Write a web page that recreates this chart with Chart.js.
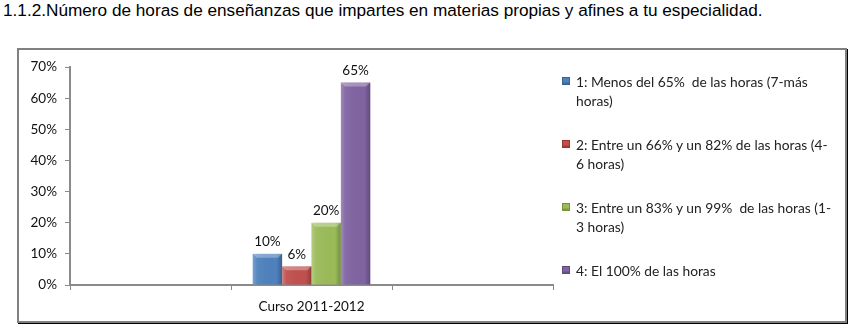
<!DOCTYPE html>
<html>
<head>
<meta charset="utf-8">
<script src="https://cdn.jsdelivr.net/npm/chart.js@4.4.1/dist/chart.umd.min.js"></script>
<style>
  html, body { margin: 0; padding: 0; background: #fff; }
  body { width: 851px; height: 330px; position: relative; overflow: hidden; }
  #title { position: absolute; left: 3px; top: 0px; font-family: "Liberation Sans", Arial, sans-serif; font-size: 17.2px; color: #000; white-space: nowrap; }
  #frame { position: absolute; left: 17px; top: 48px; width: 826px; height: 271px; border: 2px solid #808080; box-shadow: 1px 1px 0 #000; }
  #c { position: absolute; left: 0; top: 0; }
  #legend { position: absolute; left: 562px; top: 72px; width: 271px; font-family: Lato, "Open Sans", sans-serif; font-size: 13.8px; color: #222; line-height: 19px; }
  .item { position: relative; padding-left: 14px; height: 63px; white-space: pre-wrap; }
  .sw { position: absolute; left: 0; top: 5px; width: 8px; height: 8px; }
</style>
</head>
<body>
<div id="title">1.1.2.Número de horas de enseñanzas que impartes en materias propias y afines a tu especialidad.</div>
<div id="frame"></div>
<canvas id="c" width="851" height="330"></canvas>
<div id="legend"></div>
<script>
const categories = ['', 'Curso 2011-2012', ''];
const seriesNames = [
  '1: Menos del 65%  de las horas (7-más horas)',
  '2: Entre un 66% y un 82% de las horas (4-6 horas)',
  '3: Entre un 83% y un 99%  de las horas (1-3 horas)',
  '4: El 100% de las horas'
];
const series1 = [null, 10, null];
const series2 = [null, 6, null];
const series3 = [null, 20, null];
const series4 = [null, 65, null];
const yTicks = [0, 10, 20, 30, 40, 50, 60, 70];
const colors = ['#4F81BD', '#C0504D', '#9BBB59', '#8064A2'];
const darkColors = ['#3A6294', '#9A3532', '#76923C', '#5F4A7D'];

const valueLabels = {
  id: 'valueLabels',
  afterDatasetsDraw(chart) {
    const ctx = chart.ctx;
    ctx.save();
    ctx.font = '13.5px Lato, "Open Sans", sans-serif';
    ctx.fillStyle = '#111';
    ctx.textAlign = 'center';
    ctx.textBaseline = 'bottom';
    chart.data.datasets.forEach((ds, i) => {
      chart.getDatasetMeta(i).data.forEach((el, j) => {
        const v = ds.data[j];
        if (v === null || v === undefined) return;
        ctx.fillText(v + '%', el.x, el.y - 5);
      });
    });
    ctx.restore();
  }
};

const bevel = {
  id: 'bevel',
  afterDatasetsDraw(chart) {
    const ctx = chart.ctx;
    ctx.save();
    chart.data.datasets.forEach((ds, i) => {
      chart.getDatasetMeta(i).data.forEach((el, j) => {
        if (ds.data[j] === null) return;
        const w = el.width, l = el.x - w / 2, r = el.x + w / 2, t = el.y, b = el.base;
        const g = ctx.createLinearGradient(l, 0, r, 0);
        g.addColorStop(0, 'rgba(255,255,255,0.25)');
        g.addColorStop(0.15, 'rgba(255,255,255,0.05)');
        g.addColorStop(0.8, 'rgba(0,0,0,0.0)');
        g.addColorStop(1, 'rgba(0,0,0,0.25)');
        ctx.fillStyle = g;
        ctx.fillRect(l, t, w, b - t);
        ctx.fillStyle = 'rgba(255,255,255,0.3)';
        ctx.beginPath();
        ctx.moveTo(l, t); ctx.lineTo(r, t); ctx.lineTo(r - 4, t + 4); ctx.lineTo(l + 4, t + 4); ctx.closePath();
        ctx.fill();
      });
    });
    ctx.restore();
  }
};

const data = {
  labels: categories,
  datasets: [series1, series2, series3, series4].map((d, i) => ({
    label: seriesNames[i],
    data: d,
    backgroundColor: colors[i],
    borderWidth: 0,
    categoryPercentage: 0.73,
    barPercentage: 1.0
  }))
};

const chart = new Chart(document.getElementById('c'), {
  type: 'bar',
  data,
  options: {
    responsive: false,
    animation: false,
    events: [],
    layout: { padding: { left: 0, right: 298, top: 67, bottom: 0 } },
    plugins: { legend: { display: false }, tooltip: { enabled: false } },
    scales: {
      x: {
        offset: true,
        grid: { offset: true, drawOnChartArea: false, drawTicks: true, tickLength: 5, color: '#8a8a8a', lineWidth: 1 },
        border: { display: true, color: '#8a8a8a', width: 2 },
        ticks: { padding: 9, color: '#111', font: { family: 'Lato, "Open Sans", sans-serif', size: 13.5 } },
        afterFit(s) { s.height = 45; }
      },
      y: {
        min: 0, max: 70,
        afterBuildTicks(s) { s.ticks = yTicks.map(v => ({ value: v })); },
        grid: { drawOnChartArea: false, drawTicks: true, tickLength: 5, color: '#8a8a8a', lineWidth: 1 },
        border: { display: true, color: '#8a8a8a', width: 2 },
        ticks: { padding: 8, color: '#111', font: { family: 'Lato, "Open Sans", sans-serif', size: 13.5 }, callback: v => v + '%' },
        afterFit(s) { s.width = 70; }
      }
    }
  },
  plugins: [bevel, valueLabels]
});

const legend = document.getElementById('legend');
chart.data.datasets.forEach((ds, i) => {
  const item = document.createElement('div');
  item.className = 'item';
  const sw = document.createElement('span');
  sw.className = 'sw';
  sw.style.background = 'linear-gradient(180deg,' + colors[i] + ' 0%,' + colors[i] + ' 60%,' + darkColors[i] + ' 100%)';
  sw.style.border = '1px solid ' + darkColors[i];
  sw.style.boxSizing = 'border-box';
  item.appendChild(sw);
  item.appendChild(document.createTextNode(ds.label.replace(/-/g, '-\u200B')));
  legend.appendChild(item);
});
</script>
</body>
</html>
